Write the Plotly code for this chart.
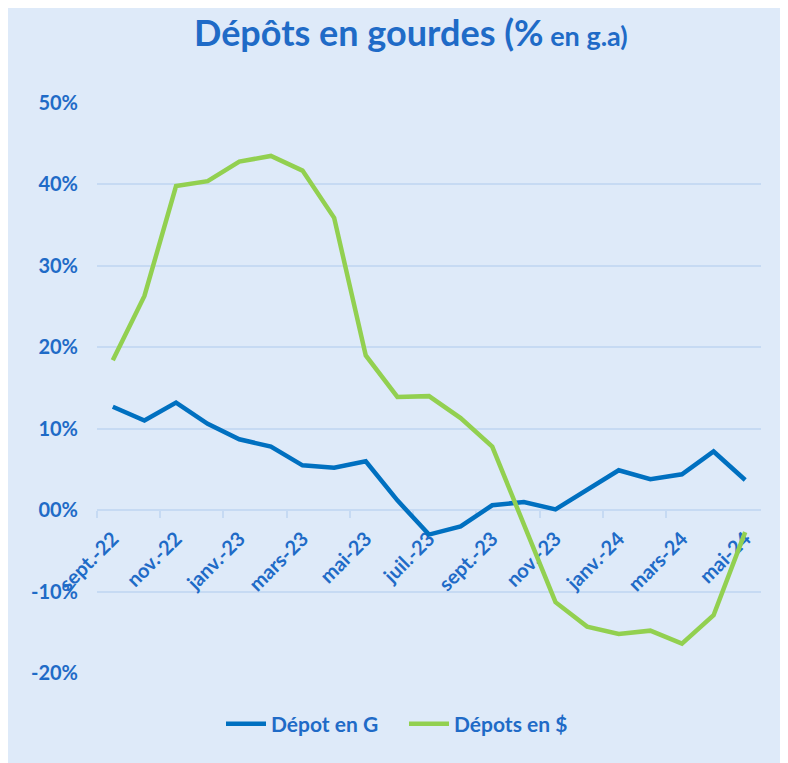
import plotly.graph_objects as go

months = ["sept.-22", "oct.-22", "nov.-22", "déc.-22", "janv.-23", "févr.-23", "mars-23",
          "avr.-23", "mai-23", "juin-23", "juil.-23", "août-23", "sept.-23", "oct.-23",
          "nov.-23", "déc.-23", "janv.-24", "févr.-24", "mars-24", "avr.-24", "mai-24"]
depot_g = [12.7, 11.0, 13.2, 10.6, 8.7, 7.8, 5.5, 5.2, 6.0, 1.2, -3.0, -2.0, 0.6, 1.0,
           0.1, 2.5, 4.9, 3.8, 4.4, 7.2, 3.7]
depot_usd = [18.4, 26.3, 39.8, 40.4, 42.8, 43.5, 41.7, 35.9, 19.0, 13.9, 14.0, 11.3, 7.8,
             -1.8, -11.3, -14.3, -15.2, -14.8, -16.4, -12.9, -2.7]
shown_ticks = months[0::2]
y_ticks = [-20, -10, 0, 10, 20, 30, 40, 50]
y_tick_text = ["-20%", "-10%", "00%", "10%", "20%", "30%", "40%", "50%"]
boundary_ticks = [i - 0.5 for i in range(0, 20, 2)]

TXT = "#1F6BC7"
BG = "#DEEAF9"
GRID = "#C6DAF3"
FONT = "Lato"

# page has an 8px body margin; work in figure pixels (screen - 8)
W, H = 780, 755
L, T = 89, 95
R = W - 753
B = H - 665
pw = W - L - R
ph = H - T - B

fig = go.Figure()
fig.add_trace(go.Scatter(x=months, y=depot_g, mode="lines", name="Dépot en G",
                         line=dict(color="#0070C0", width=4.5)))
fig.add_trace(go.Scatter(x=months, y=depot_usd, mode="lines", name="Dépots en $",
                         line=dict(color="#92D050", width=4.5)))

zero_frac = (0 - (-20)) / 70.0

fig.update_layout(
    width=W, height=H,
    margin=dict(l=L, r=R, t=T, b=B, autoexpand=False),
    paper_bgcolor=BG,
    plot_bgcolor=BG,
    font=dict(family=FONT, color=TXT, size=20),
    showlegend=True,
    legend=dict(orientation="h", x=(396 - L) / pw, xanchor="center", y=-(716 - 665) / ph,
                yanchor="middle", font=dict(family=FONT, size=21, color=TXT, weight="bold"),
                bgcolor="rgba(0,0,0,0)", entrywidth=128, itemwidth=40),
    xaxis=dict(type="category", range=[-0.5, 20.5], tickvals=shown_ticks, ticktext=shown_ticks,
               tickangle=-45, anchor="free", position=zero_frac, showgrid=False,
               showline=False, zeroline=False, ticks="", layer="below traces",
               ticklabelstandoff=12,
               tickfont=dict(family=FONT, size=20, color=TXT, weight="bold")),
    xaxis2=dict(overlaying="x", range=[-0.5, 20.5], tickvals=boundary_ticks, showticklabels=False,
                anchor="free", position=zero_frac, ticks="outside", ticklen=7, tickwidth=2,
                tickcolor=GRID, showgrid=False, zeroline=False, showline=False,
                layer="below traces"),
    yaxis=dict(range=[-20, 50], tickvals=y_ticks, ticktext=y_tick_text, showgrid=True,
               gridcolor=GRID, gridwidth=2, zeroline=False, showline=False, ticks="",
               ticklabelstandoff=18,
               tickfont=dict(family=FONT, size=20, color=TXT, weight="bold")),
)

fig.add_trace(go.Scatter(x=[-0.5], y=[None], xaxis="x2", showlegend=False, hoverinfo="skip"))

fig.add_annotation(xref="paper", yref="paper", x=(403 - L) / pw, y=(H - B - 24) / ph,
                   xanchor="center", yanchor="middle", showarrow=False,
                   text="<b><span style='font-size:36px'>Dépôts en gourdes (%</span>"
                        "<span style='font-size:27px'> en g.a)</span></b>",
                   font=dict(family=FONT, color=TXT))

fig.write_html("out.html")
